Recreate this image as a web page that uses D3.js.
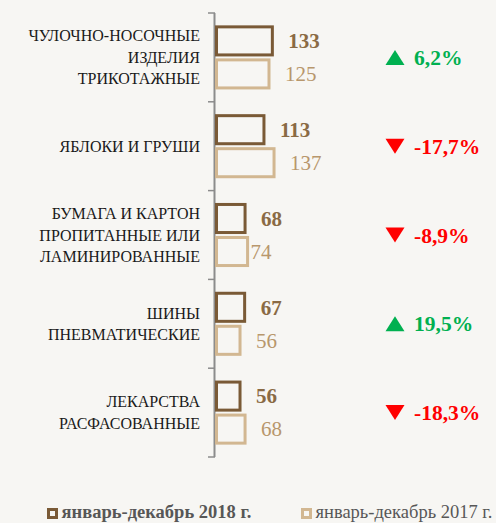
<!DOCTYPE html>
<html><head><meta charset="utf-8">
<script src="https://cdn.jsdelivr.net/npm/d3@7"></script>
<style>html,body{margin:0;padding:0;background:#f7f6f3;}svg{display:block;}</style>
</head><body>
<svg id="c" width="496" height="523"></svg>
<script>
const categories = [
  "ЧУЛОЧНО-НОСОЧНЫЕ\nИЗДЕЛИЯ\nТРИКОТАЖНЫЕ",
  "ЯБЛОКИ И ГРУШИ",
  "БУМАГА И КАРТОН\nПРОПИТАННЫЕ ИЛИ\nЛАМИНИРОВАННЫЕ",
  "ШИНЫ\nПНЕВМАТИЧЕСКИЕ",
  "ЛЕКАРСТВА\nРАСФАСОВАННЫЕ"
];
const seriesNames = ["январь-декабрь 2018 г.", "январь-декабрь 2017 г."];
const values2018 = [133, 113, 68, 67, 56];
const values2017 = [125, 137, 74, 56, 68];
const changeLabels = ["6,2%", "-17,7%", "-8,9%", "19,5%", "-18,3%"];
const changeDir = ["up", "down", "down", "up", "down"];

const svg = d3.select("#c");
const W = 496, H = 523;
svg.append("rect").attr("width", W).attr("height", H).attr("fill", "#f7f6f3");

const colDark = "#7a5a36", colLight = "#d2b791";
const txtDark = "#8a6a44", txtLight = "#b8976c";
const serif = "'Liberation Serif','Times New Roman',serif";

const y = d3.scaleBand().domain(categories).range([13, 457]).padding(0);
const ySub = d3.scaleBand().domain(seriesNames).range([0, y.bandwidth()]).paddingInner(0.15).paddingOuter(0.42);
const x = d3.scaleLinear().domain([0, 150]).range([216.5, 216.5 + 63]);

// axis
const axisG = svg.append("g");
axisG.append("line").attr("x1", 214.5).attr("x2", 214.5).attr("y1", y.range()[0]).attr("y2", y.range()[1])
  .attr("stroke", "#8c8c8c").attr("stroke-width", 2);
const bounds = categories.map(c => y(c)).concat([y.range()[1]]);
axisG.selectAll("line.tick").data(bounds).enter().append("line")
  .attr("x1", 208).attr("x2", 215).attr("y1", d => d).attr("y2", d => d)
  .attr("stroke", "#8c8c8c").attr("stroke-width", 1.5);

// category labels
const lh = 21.5;
categories.forEach(c => {
  const lines = c.split("\n");
  const cy = y(c) + y.bandwidth() / 2;
  const t = svg.append("text").attr("text-anchor", "end").attr("font-family", serif)
    .attr("font-size", 16).attr("fill", "#1a1a1a");
  lines.forEach((l, i) => {
    t.append("tspan").attr("x", 200).attr("y", cy - (lines.length - 1) / 2 * lh + i * lh + 5.5).text(l);
  });
});

// bars
const series = [
  {name: seriesNames[0], vals: values2018, stroke: colDark, txt: txtDark, weight: "bold"},
  {name: seriesNames[1], vals: values2017, stroke: colLight, txt: txtLight, weight: "normal"}
];
series.forEach((s, si) => {
  const g = svg.append("g");
  g.selectAll("rect").data(categories).enter().append("rect")
    .attr("x", x(0))
    .attr("y", c => y(c) + ySub(s.name))
    .attr("width", (c, i) => x(s.vals[i]) - x(0))
    .attr("height", ySub.bandwidth())
    .attr("fill", "none").attr("stroke", s.stroke).attr("stroke-width", 3);
  g.selectAll("text").data(categories).enter().append("text")
    .attr("x", (c, i) => x(s.vals[i]) + (si === 1 && i === 2 ? 3 : 16))
    .attr("y", c => y(c) + ySub(s.name) + ySub.bandwidth() / 2)
    .attr("dy", "0.35em")
    .attr("font-family", serif).attr("font-size", 21).attr("font-weight", s.weight)
    .attr("fill", s.txt)
    .text((c, i) => s.vals[i]);
});

// change indicators
categories.forEach((c, i) => {
  const cy = y(c) + y.bandwidth() / 2;
  const up = changeDir[i] === "up";
  const col = up ? "#00b050" : "#ff0000";
  const cx = 395, hw = 9.5, hh = 7.5;
  const p = up
    ? `M${cx - hw},${cy + hh}L${cx + hw},${cy + hh}L${cx},${cy - hh}Z`
    : `M${cx - hw},${cy - hh}L${cx + hw},${cy - hh}L${cx},${cy + hh}Z`;
  svg.append("path").attr("d", p).attr("fill", col);
  svg.append("text").attr("x", 414).attr("y", cy).attr("dy", "0.35em")
    .attr("font-family", serif).attr("font-size", 21.5).attr("font-weight", "bold")
    .attr("fill", col).text(changeLabels[i]);
});

// legend
const legend = [
  {name: seriesNames[0], stroke: colDark, weight: "bold", x: 48.5},
  {name: seriesNames[1], stroke: colLight, weight: "normal", x: 302.5}
];
legend.forEach(l => {
  svg.append("rect").attr("x", l.x).attr("y", 509.5).attr("width", 8).attr("height", 8)
    .attr("fill", "none").attr("stroke", l.stroke).attr("stroke-width", 3);
  svg.append("text").attr("x", l.x + 13).attr("y", 518)
    .attr("font-family", serif).attr("font-size", 18.5).attr("font-weight", l.weight)
    .attr("fill", "#575757").text(l.name);
});
</script>
</body></html>
